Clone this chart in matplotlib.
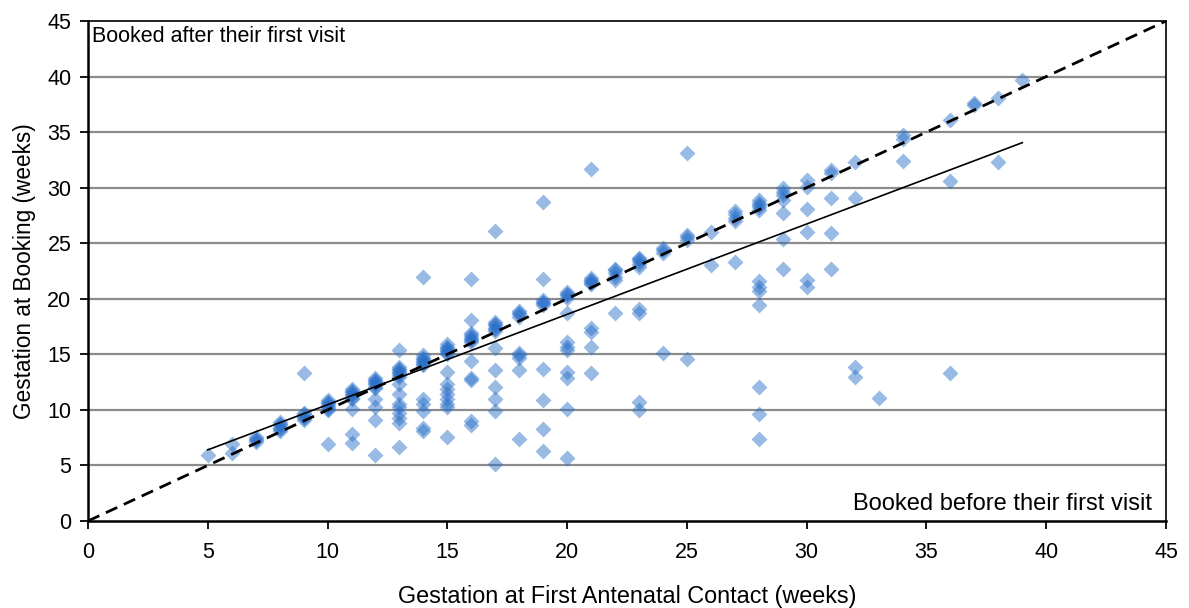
import matplotlib
matplotlib.use("Agg")
import matplotlib.pyplot as plt

plt.rcParams['font.family'] = ['Liberation Sans', 'DejaVu Sans']

# Gestation (weeks) at first antenatal contact and at booking, one row per contact week
first_contact_weeks = (
    [5] * 1 + [6] * 2 + [7] * 4 + [8] * 6 + [9] * 6 + [10] * 8 + [11] * 10 +
    [12] * 11 + [13] * 16 + [14] * 13 + [15] * 15 + [16] * 13 + [17] * 13 +
    [18] * 9 + [19] * 10 + [20] * 12 + [21] * 10 + [22] * 6 + [23] * 9 +
    [24] * 4 + [25] * 5 + [26] * 2 + [27] * 5 + [28] * 12 + [29] * 7 +
    [30] * 6 + [31] * 5 + [32] * 4 + [33] * 1 + [34] * 3 + [36] * 3 +
    [37] * 2 + [38] * 2 + [39] * 1
)
booking_weeks = (
    [5.9] +
    [6.1, 6.9] +
    [7.1, 7.3, 7.4, 7.6] +
    [8.1, 8.3, 8.4, 8.6, 8.7, 8.9] +
    [9.1, 9.3, 9.4, 9.6, 9.7, 13.3] +
    [10.0, 10.1, 10.3, 10.4, 10.6, 10.7, 10.9, 6.9] +
    [11.0, 11.1, 11.3, 11.4, 11.6, 11.7, 11.9, 10.1, 7.8, 7.0] +
    [12.0, 12.1, 12.3, 12.4, 12.6, 12.7, 12.9, 11.0, 10.3, 9.1, 5.9] +
    [13.0, 13.1, 13.3, 13.4, 13.6, 13.7, 13.9, 15.4, 12.3, 11.4, 10.5, 10.3, 9.7, 9.3, 8.8, 6.7] +
    [14.0, 14.1, 14.3, 14.4, 14.6, 14.7, 14.9, 22.0, 11.0, 10.5, 9.9, 8.4, 8.1] +
    [15.0, 15.1, 15.3, 15.4, 15.6, 15.7, 15.9, 13.4, 12.3, 11.9, 11.4, 11.0, 10.5, 10.3, 7.6] +
    [16.1, 16.3, 16.4, 16.6, 16.7, 16.9, 21.8, 18.1, 14.4, 12.9, 12.7, 9.0, 8.6] +
    [17.1, 17.3, 17.4, 17.6, 17.7, 17.9, 26.1, 15.6, 13.6, 12.1, 11.0, 9.9, 5.1] +
    [18.4, 18.6, 18.7, 18.9, 15.1, 14.9, 14.7, 13.6, 7.4] +
    [19.4, 19.6, 19.7, 19.9, 28.7, 21.8, 13.7, 10.9, 8.3, 6.3] +
    [20.1, 20.3, 20.4, 20.6, 18.7, 16.1, 15.7, 15.4, 13.4, 12.9, 10.1, 5.7] +
    [21.3, 21.4, 21.6, 21.7, 21.9, 31.7, 17.4, 17.0, 15.7, 13.3] +
    [21.7, 22.0, 22.3, 22.6, 22.7, 18.7] +
    [22.9, 23.1, 23.4, 23.6, 23.7, 19.1, 18.7, 10.7, 10.0] +
    [24.1, 24.4, 24.6, 15.1] +
    [25.3, 25.6, 25.7, 33.1, 14.6] +
    [26.0, 23.0] +
    [27.0, 27.3, 27.6, 27.9, 23.3] +
    [28.0, 28.3, 28.4, 28.6, 28.9, 21.6, 21.1, 20.7, 19.4, 12.1, 9.6, 7.4] +
    [28.9, 29.3, 29.6, 30.0, 27.7, 25.4, 22.7] +
    [30.7, 30.1, 28.1, 26.0, 21.7, 21.1] +
    [31.6, 31.3, 29.1, 25.9, 22.7] +
    [32.3, 29.1, 13.9, 13.0] +
    [11.1] +
    [34.7, 34.4, 32.4] +
    [36.1, 30.6, 13.3] +
    [37.6, 37.4] +
    [38.1, 32.3] +
    [39.7]
)

# Linear trend end points and the line of equality
trend_x = [5, 39]
trend_y = [6.4, 34.05]
equality = [0, 45]

x_ticks = list(range(0, 46, 5))
y_ticks = list(range(0, 46, 5))

fig = plt.figure(figsize=(11.89, 6.08), dpi=100)
ax = fig.add_axes([0.074, 0.1431, 0.9067, 0.8224])

ax.set_xlim(0, 45)
ax.set_ylim(0, 45)

for yv in y_ticks[1:-1]:
    ax.axhline(yv, color='#8c8c8c', lw=1.6, zorder=0)

ax.scatter(first_contact_weeks, booking_weeks, marker='D', s=66,
           color='#2a6fc9', alpha=0.48, linewidths=0, zorder=2)

ax.plot(equality, equality, color='black', lw=2.0, ls=(0, (4.5, 2.6)), zorder=3)
ax.plot(trend_x, trend_y, color='black', lw=1.2, zorder=3)

ax.set_xticks(x_ticks)
ax.set_yticks(y_ticks)
ax.tick_params(axis='both', direction='out', length=6, width=1.3,
               labelsize=15.5, colors='black')
ax.tick_params(axis='x', pad=9)
ax.tick_params(axis='y', pad=6)

for side in ['left', 'bottom']:
    ax.spines[side].set_linewidth(1.8)
for side in ['top', 'right']:
    ax.spines[side].set_linewidth(1.2)

ax.set_xlabel('Gestation at First Antenatal Contact (weeks)', fontsize=16.8, labelpad=16)
ax.set_ylabel('Gestation at Booking (weeks)', fontsize=16.3, labelpad=8)

ax.text(0.004, 0.99, 'Booked after their first visit', transform=ax.transAxes,
        fontsize=15.5, ha='left', va='top')
ax.text(0.987, 0.012, 'Booked before their first visit', transform=ax.transAxes,
        fontsize=17, ha='right', va='bottom')

fig.savefig('out.png', dpi=100)
